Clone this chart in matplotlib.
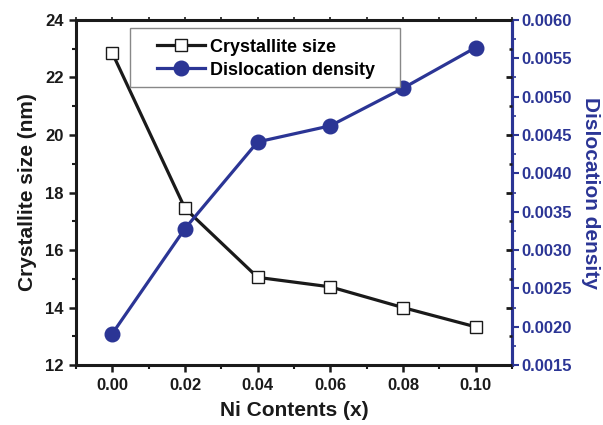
import matplotlib.pyplot as plt
from matplotlib.ticker import MultipleLocator
from matplotlib.lines import Line2D
from matplotlib.patches import Rectangle

plt.rcParams['font.family'] = ['Liberation Sans', 'DejaVu Sans']
plt.rcParams['font.weight'] = 'bold'

ni = [0.00, 0.02, 0.04, 0.06, 0.08, 0.10]
cryst_size = [22.85, 17.45, 15.05, 14.72, 14.0, 13.33]
disloc = [0.00191, 0.00328, 0.00441, 0.00462, 0.00511, 0.00564]

blue = '#2b3595'
dark = '#1a1a1a'

fig = plt.figure(figsize=(6.03, 4.25), dpi=100)
ax = fig.add_axes([0.126, 0.141, 0.723, 0.812])
ax2 = ax.twinx()

ax.plot(ni, cryst_size, color=dark, lw=2.3, marker='s', ms=8.5,
        mfc='white', mec=dark, mew=1.0, zorder=3)
ax2.plot(ni, disloc, color=blue, lw=2.3, marker='o', ms=10.5,
         mfc=blue, mec=blue, zorder=3)

ax.set_xlim(-0.01, 0.11)
ax.set_ylim(12, 24)
ax2.set_ylim(0.0015, 0.0060)

ax.xaxis.set_minor_locator(MultipleLocator(0.01))
ax.yaxis.set_major_locator(MultipleLocator(2))
ax.yaxis.set_minor_locator(MultipleLocator(1))
ax2.yaxis.set_minor_locator(MultipleLocator(0.00025))

ax.set_xticks(ni)
ax.set_xticklabels(['%.2f' % v for v in ni])
ax2.set_yticks([0.0015 + 0.0005 * i for i in range(10)])
ax2.set_yticklabels(['%.4f' % (0.0015 + 0.0005 * i) for i in range(10)])

for s in ax.spines.values():
    s.set_linewidth(2.2)
    s.set_color(dark)
ax2.spines['right'].set_color(blue)
ax2.spines['right'].set_linewidth(2.2)
for k in ['left', 'top', 'bottom']:
    ax2.spines[k].set_visible(False)

ax.tick_params(axis='both', which='major', direction='out', length=5, width=1.8,
               labelsize=12, colors=dark, pad=4)
ax.tick_params(axis='both', which='minor', direction='out', length=3, width=1.5,
               colors=dark)

ax2.tick_params(axis='y', which='major', direction='out', length=5, width=1.5,
                labelsize=12, colors=blue, pad=2)
ax2.tick_params(axis='y', which='minor', direction='out', length=3, width=1.2,
                colors=blue)

# mirrored ticks: small ones on top, inward black ones on the right spine
ax3 = ax.twinx()
ax3.xaxis.set_visible(True)
ax3.set_ylim(ax.get_ylim())
ax3.yaxis.set_major_locator(MultipleLocator(2))
ax3.yaxis.set_minor_locator(MultipleLocator(1))
ax3.tick_params(axis='y', which='major', direction='in', length=4.5, width=2,
                colors=dark, labelright=False)
ax3.tick_params(axis='y', which='minor', direction='in', length=2.5, width=1.8,
                colors=dark)
ax3.xaxis.set_ticks_position('top')
ax3.set_xticks(ni)
ax3.xaxis.set_minor_locator(MultipleLocator(0.01))
ax3.tick_params(axis='x', which='both', top=True, bottom=False, labeltop=False,
                labelbottom=False, direction='out', length=2, width=1.2, colors=dark)
for s in ax3.spines.values():
    s.set_visible(False)

ax.set_xlabel('Ni Contents (x)', fontsize=15, fontweight='bold', color=dark, labelpad=6)
ax.set_ylabel('Crystallite size (nm)', fontsize=15, fontweight='bold', color=dark, labelpad=6)
ax2.set_ylabel('Dislocation density', fontsize=15, fontweight='bold', color=blue,
               rotation=270, labelpad=20)

# legend frame drawn by hand (wider side padding than top/bottom)
ax3.add_patch(Rectangle((0.124, 0.806), 0.619, 0.171, transform=ax.transAxes,
                        facecolor='white', edgecolor='#888888', lw=1.0, zorder=4))
handles = [
    Line2D([], [], color=dark, lw=2.3, marker='s', ms=8.5, mfc='white', mec=dark),
    Line2D([], [], color=blue, lw=2.3, marker='o', ms=10.5, mfc=blue, mec=blue),
]
leg = ax3.legend(handles, ['Crystallite size', 'Dislocation density'],
                 loc='upper left', bbox_to_anchor=(0.186, 0.946), borderaxespad=0,
                 frameon=False, handlelength=2.65, borderpad=0,
                 labelspacing=0.33, handletextpad=0.3,
                 prop={'weight': 'bold', 'size': 13})
leg.set_zorder(5)

fig.savefig('out.png', dpi=100)
